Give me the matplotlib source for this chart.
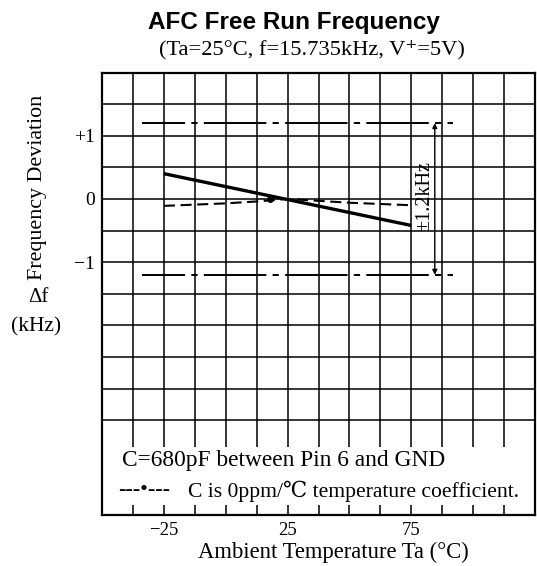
import numpy as np
import matplotlib.pyplot as plt
from matplotlib.patches import Rectangle

plt.rcParams['lines.scale_dashes'] = False
serif = ['Liberation Serif', 'DejaVu Serif', 'DejaVu Sans']

# data
temp_solid = [-25, 75]
dev_solid = [0.4, -0.42]

temp_dash = [-25, 0, 12.5, 25, 37.5, 50, 75]
dev_dash = [-0.11, -0.07, -0.04, 0.0, -0.03, -0.06, -0.1]
dot_temp = [18]
dot_dev = [0.0]

limit_temp = [-34, 92]
limit_dev = 1.2
arrow_temp = 84.5

xgrid = np.arange(-50, 125.1, 12.5)
ygrid = np.arange(-5, 2.01, 0.5)
xlabels = {-25: '\u221225', 25: '25', 75: '75'}
ylabels = {1: '+1', 0: '0', -1: '\u22121'}

fig = plt.figure(figsize=(5.37, 5.66), dpi=100)
ax = fig.add_axes([102/537, 51/566, 433/537, 442.5/566])
ax.set_xlim(-50, 125)
ax.set_ylim(-5, 2)

ax.set_xticks(xgrid)
ax.set_xticklabels([xlabels.get(v, '') for v in xgrid], family=serif, fontsize=13.5)
ax.set_yticks(ygrid)
ax.set_yticklabels([ylabels.get(v, '') for v in ygrid], family=serif, fontsize=14)
ax.tick_params(length=0, pad=5)
ax.set_axisbelow(True)
ax.grid(True, color='black', lw=1.1)
for s in ax.spines.values():
    s.set_linewidth(1.6)

# limit lines (dash-dot)
for sgn in (1, -1):
    ax.plot(limit_temp, [sgn*limit_dev]*2, color='black', lw=1.4,
            linestyle=(14, (45, 4.5, 4.5, 4.5)))
ax.annotate('', xy=(arrow_temp, -limit_dev), xytext=(arrow_temp, limit_dev),
            arrowprops=dict(arrowstyle='<|-|>', color='black', lw=1.0,
                            mutation_scale=7, shrinkA=0, shrinkB=0))
ax.text(80.3, 0.05, '\u00b11.2kHz', rotation=90, ha='center', va='center',
        family=serif, fontsize=14.5)

ax.plot(temp_solid, dev_solid, color='black', lw=2.4, solid_capstyle='butt')
ax.plot(temp_dash, dev_dash, color='black', lw=1.5, linestyle=(0, (8, 4)))
ax.plot(dot_temp, dot_dev, 'o', color='black', ms=4)

# note box
ax.add_patch(Rectangle((-49.5, -4.84), 174, 0.91, facecolor='white',
                       edgecolor='none', zorder=1))
ax.text(-42, -4.14, 'C=680pF between Pin 6 and GND', family=serif,
        fontsize=16.8, va='center', ha='left', zorder=3)
ax.text(-43.5, -4.62, '---\u2022---', family=serif, fontsize=16,
        va='center', ha='left', zorder=3)
ax.text(-15.3, -4.62, 'C is 0ppm/\u2103 temperature coefficient.',
        family=serif, fontsize=15.6, va='center', ha='left', zorder=3)

fig.text(294/537, 1 - 22/566, 'AFC Free Run Frequency', family='Liberation Sans',
         fontweight='bold', fontsize=17.5, ha='center', va='center')
fig.text(312/537, 1 - 50/566, '(Ta=25\u00b0C, f=15.735kHz, V\u207a=5V)',
         family=serif, fontsize=16.2, ha='center', va='center')
fig.text(38/537, 1 - 187/566, 'Frequency Deviation', rotation=90, family=serif,
         fontsize=15.8, ha='center', va='center')
fig.text(38/537, 1 - 297/566, '\u0394f', family=serif, fontsize=15,
         ha='center', va='center')
fig.text(36/537, 1 - 327/566, '(kHz)', family=serif, fontsize=15.5,
         ha='center', va='center')
fig.text(333/537, 1 - 552/566, 'Ambient Temperature Ta (\u00b0C)', family=serif,
         fontsize=16.3, ha='center', va='center')

fig.savefig('out.png', dpi=100)
